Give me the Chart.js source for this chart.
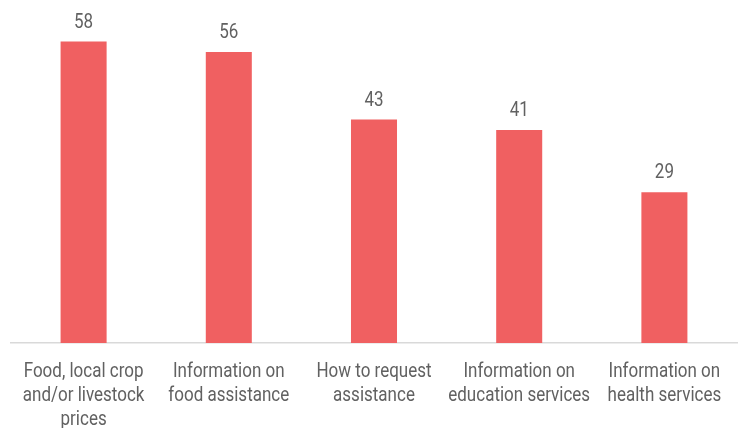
<!DOCTYPE html>
<html>
<head>
<meta charset="utf-8">
<script src="https://cdn.jsdelivr.net/npm/chart.js@4"></script>
<style>
  html, body { margin: 0; padding: 0; background: #fff; }
  #wrap { width: 744px; height: 428px; }
</style>
</head>
<body>
<div id="wrap"><canvas id="chart" width="744" height="428"></canvas></div>
<script>
const categories = [
  ["Food, local crop", "and/or livestock", "prices"],
  ["Information on", "food assistance"],
  ["How to request", "assistance"],
  ["Information on", "education services"],
  ["Information on", "health services"]
];
const values = [58, 56, 43, 41, 29];

const BAR = "#F06061";
const TEXT = "#616161";
const FONT = "20px Roboto";
const SQUEEZE = 0.85; // narrow the glyphs horizontally

function squeezedText(ctx, text, x, y) {
  ctx.save();
  ctx.translate(x, y);
  ctx.scale(SQUEEZE, 1);
  ctx.fillText(text, 0, 0);
  ctx.restore();
}

// value above each bar + multi-line category names under the axis
const labelsPlugin = {
  id: "labels",
  afterDatasetsDraw(chart) {
    const ctx = chart.ctx;
    const meta = chart.getDatasetMeta(0);
    const xs = chart.scales.x;
    ctx.save();
    ctx.font = FONT;
    ctx.fillStyle = TEXT;
    ctx.textAlign = "center";
    ctx.textBaseline = "alphabetic";
    meta.data.forEach((bar, i) => {
      squeezedText(ctx, String(values[i]), bar.x, bar.y - 14);
    });
    const base = chart.chartArea.bottom;
    categories.forEach((lines, i) => {
      const x = xs.getPixelForValue(i);
      lines.forEach((line, j) => {
        squeezedText(ctx, line, x, base + 34 + j * 24);
      });
    });
    ctx.restore();
  }
};

new Chart(document.getElementById("chart"), {
  type: "bar",
  data: {
    labels: categories.map(c => c.join(" ")),
    datasets: [{
      data: values,
      backgroundColor: BAR,
      categoryPercentage: 1,
      barPercentage: 0.317
    }]
  },
  options: {
    responsive: false,
    animation: false,
    layout: { padding: { left: 11, right: 7, top: 0, bottom: 77 } },
    plugins: { legend: { display: false }, tooltip: { enabled: false } },
    scales: {
      x: {
        grid: { display: false },
        border: { display: true, color: "#d9d9d9", width: 1.5 },
        ticks: { display: false }
      },
      y: {
        display: false,
        min: 0,
        max: 66
      }
    }
  },
  plugins: [labelsPlugin]
});
</script>
</body>
</html>
